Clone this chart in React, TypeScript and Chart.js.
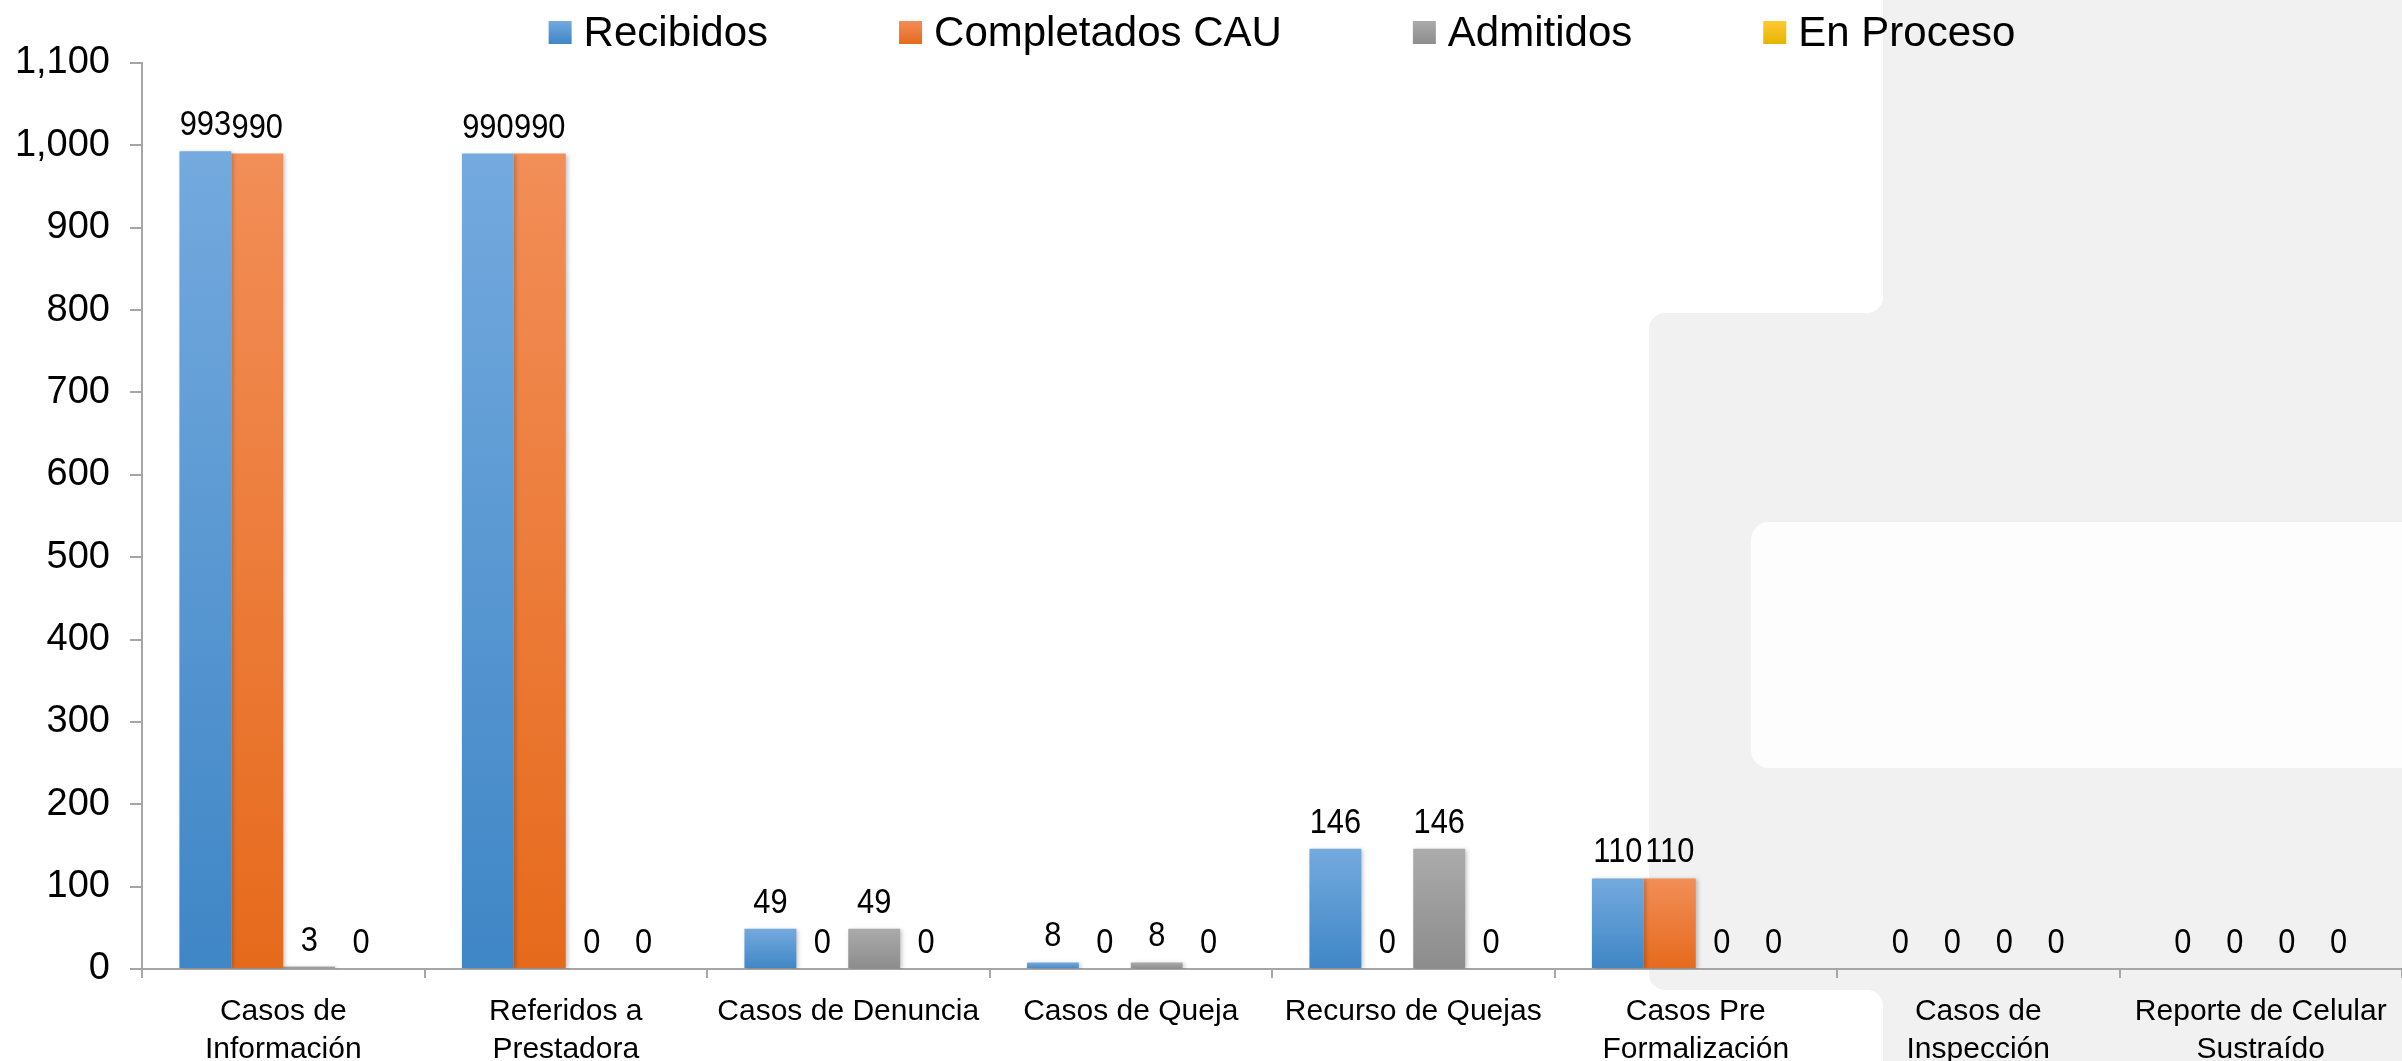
import React, { useEffect, useRef } from 'react';
import { Chart, registerables } from 'chart.js';

Chart.register(...registerables);

// ---------- data ----------
const categories: (string | string[])[] = [
  ['Casos de', 'Información'],
  ['Referidos a', 'Prestadora'],
  'Casos de Denuncia',
  'Casos de Queja',
  'Recurso de Quejas',
  ['Casos Pre', 'Formalización'],
  ['Casos de', 'Inspección'],
  ['Reporte de Celular', 'Sustraído'],
];
const seriesNames = ['Recibidos', 'Completados CAU', 'Admitidos', 'En Proceso'];
const recibidos = [993, 990, 49, 8, 146, 110, 0, 0];
const completadosCAU = [990, 990, 0, 0, 0, 110, 0, 0];
const admitidos = [3, 0, 49, 8, 146, 0, 0, 0];
const enProceso = [0, 0, 0, 0, 0, 0, 0, 0];
const yMin = 0;
const yMax = 1100;
const yStep = 100;

// ---------- styles ----------
const FONT = '"Liberation Sans", Arial, sans-serif';
const palette = [
  { top: '#74aade', bottom: '#3f86c6', solid: '#5b9bd5' },
  { top: '#f28e58', bottom: '#e66a1c', solid: '#ed7d31' },
  { top: '#ababab', bottom: '#8c8c8c', solid: '#a5a5a5' },
  { top: '#ffca33', bottom: '#e6b400', solid: '#ffc000' },
];
const AXIS_COLOR = '#a6a6a6';

function barGradient(idx: number) {
  return (ctx: any) => {
    const chart = ctx.chart;
    const p = palette[idx];
    const scales = chart.scales;
    if (ctx.type !== 'data' || !scales || !scales.y) return p.solid;
    const v = Number(ctx.raw);
    const yTop = scales.y.getPixelForValue(v);
    const yBot = scales.y.getPixelForValue(0);
    if (!isFinite(yTop) || !isFinite(yBot) || yBot - yTop < 1) return p.solid;
    const g = chart.ctx.createLinearGradient(0, yTop, 0, yBot);
    g.addColorStop(0, p.top);
    g.addColorStop(1, p.bottom);
    return g;
  };
}

const backgroundPlugin = {
  id: 'bgShapes',
  beforeDraw(chart: any) {
    const c: CanvasRenderingContext2D = chart.ctx;
    const W = chart.width;
    const H = chart.height;
    const gray = '#f0f1f0';
    c.save();
    c.fillStyle = '#ffffff';
    c.fillRect(0, 0, W, H);
    c.fillStyle = gray;
    c.fillRect(1883, 0, W - 1883, H);
    const r = 16;
    c.beginPath();
    c.moveTo(1883, 313);
    c.lineTo(1649 + r, 313);
    c.arcTo(1649, 313, 1649, 313 + r, r);
    c.lineTo(1649, 990 - r);
    c.arcTo(1649, 990, 1649 + r, 990, r);
    c.lineTo(1883, 990);
    c.closePath();
    c.fill();
    c.fillRect(1883 - r, 313 - r, r, r);
    c.fillRect(1883 - r, 990, r, r);
    c.fillStyle = '#ffffff';
    c.beginPath();
    c.arc(1883 - r, 313 - r, r, 0, Math.PI * 2);
    c.fill();
    c.beginPath();
    c.arc(1883 - r, 990 + r, r, 0, Math.PI * 2);
    c.fill();
    c.fillStyle = '#fdfdfd';
    const r2 = 18;
    c.beginPath();
    c.moveTo(W + 5, 522);
    c.lineTo(1751 + r2, 522);
    c.arcTo(1751, 522, 1751, 522 + r2, r2);
    c.lineTo(1751, 768 - r2);
    c.arcTo(1751, 768, 1751 + r2, 768, r2);
    c.lineTo(W + 5, 768);
    c.closePath();
    c.fill();
    c.restore();
  },
};

const shadowPlugin = {
  id: 'barShadow',
  beforeDatasetsDraw(chart: any) {
    const c = chart.ctx;
    c.save();
    c.shadowColor = 'rgba(0,0,0,0.22)';
    c.shadowBlur = 4;
    c.shadowOffsetX = 2;
    c.shadowOffsetY = 1;
  },
  afterDatasetsDraw(chart: any) {
    chart.ctx.restore();
  },
};

const labelsPlugin = {
  id: 'valueLabels',
  afterDatasetsDraw(chart: any) {
    const c: CanvasRenderingContext2D = chart.ctx;
    const sx = 0.88;
    c.save();
    c.shadowColor = 'transparent';
    c.font = `35px ${FONT}`;
    c.fillStyle = '#000';
    c.textAlign = 'center';
    c.textBaseline = 'alphabetic';
    chart.data.datasets.forEach((ds: any, di: number) => {
      const meta = chart.getDatasetMeta(di);
      meta.data.forEach((el: any, i: number) => {
        const v = ds.data[i];
        c.save();
        c.translate(el.x, el.y - 16);
        c.scale(sx, 1);
        c.fillText(Number(v).toLocaleString('en-US'), 0, 0);
        c.restore();
      });
    });
    c.restore();
  },
};

const legendPlugin = {
  id: 'topLegend',
  afterDraw(chart: any) {
    const c: CanvasRenderingContext2D = chart.ctx;
    const fs = 42;
    const box = 23;
    const gapBoxText = 12;
    const gapItems = 131;
    c.save();
    c.font = `${fs}px ${FONT}`;
    const dss = chart.data.datasets;
    const widths = dss.map((d: any) => box + gapBoxText + c.measureText(d.label).width);
    const total = widths.reduce((a: number, b: number) => a + b, 0) + gapItems * (dss.length - 1);
    const ca = chart.chartArea;
    let x = (ca.left + ca.right) / 2 + 10 - total / 2;
    const boxTop = 21;
    dss.forEach((d: any, i: number) => {
      const p = palette[i];
      const g = c.createLinearGradient(0, boxTop, 0, boxTop + box);
      g.addColorStop(0, p.top);
      g.addColorStop(1, p.bottom);
      c.fillStyle = g;
      c.fillRect(x, boxTop, box, box);
      c.fillStyle = '#000';
      c.textAlign = 'left';
      c.textBaseline = 'alphabetic';
      c.fillText(d.label, x + box + gapBoxText, 46);
      x += widths[i] + gapItems;
    });
    c.restore();
  },
};

export default function App() {
  const ref = useRef<HTMLCanvasElement | null>(null);
  useEffect(() => {
    if (!ref.current) return;
    const seriesData = [recibidos, completadosCAU, admitidos, enProceso];
    const chart = new Chart(ref.current, {
      type: 'bar',
      data: {
        labels: categories,
        datasets: seriesNames.map((name, i) => ({
          label: name,
          data: seriesData[i],
          backgroundColor: barGradient(i),
          borderWidth: 0,
          categoryPercentage: 0.735,
          barPercentage: 1,
        })),
      },
      options: {
        animation: false,
        responsive: false,
        devicePixelRatio: 1,
        layout: { padding: { top: 63, left: 0, right: 0, bottom: 0 } },
        plugins: {
          legend: { display: false },
          tooltip: { enabled: false },
        },
        scales: {
          x: {
            ticks: {
              color: '#000',
              font: { family: FONT, size: 30, lineHeight: 1.27 },
              padding: 15,
              maxRotation: 0,
              autoSkip: false,
            },
            grid: {
              offset: true,
              drawOnChartArea: false,
              drawTicks: true,
              tickLength: 9,
              color: AXIS_COLOR,
              lineWidth: 2,
            },
            border: { display: true, color: AXIS_COLOR, width: 2 },
            afterFit: (s: any) => {
              s.height = 92;
            },
          },
          y: {
            min: yMin,
            max: yMax,
            ticks: {
              stepSize: yStep,
              color: '#000',
              font: { family: FONT, size: 38 },
              padding: 20,
              callback: (v: any) => Number(v).toLocaleString('en-US'),
            },
            grid: {
              drawOnChartArea: false,
              drawTicks: true,
              tickLength: 12,
              color: AXIS_COLOR,
              lineWidth: 2,
            },
            border: { display: true, color: AXIS_COLOR, width: 2 },
            afterFit: (s: any) => {
              s.width = 142;
            },
          },
        },
      },
      plugins: [backgroundPlugin, shadowPlugin, labelsPlugin, legendPlugin],
    });
    return () => chart.destroy();
  }, []);
  return (
    <div style={{ position: 'fixed', left: 0, top: 0, width: 2402, height: 1061, background: '#fff' }}>
      <canvas ref={ref} width={2402} height={1061} style={{ display: 'block', width: 2402, height: 1061 }} />
    </div>
  );
}
